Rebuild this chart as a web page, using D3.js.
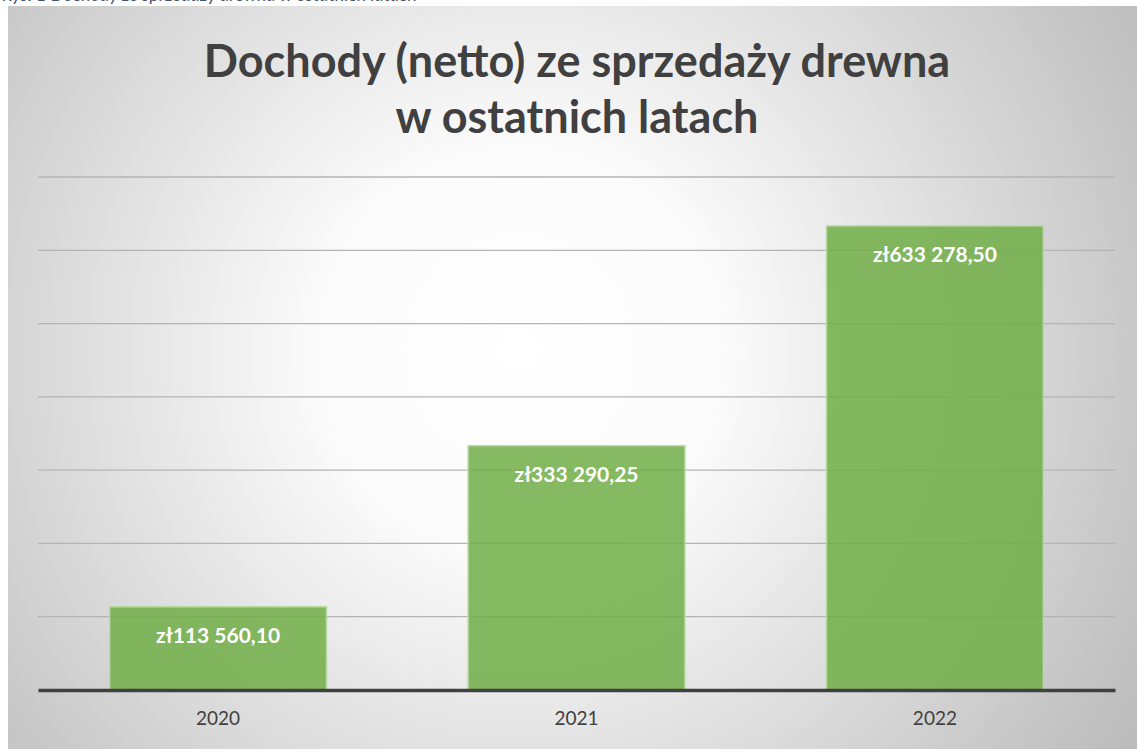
<!DOCTYPE html>
<html>
<head>
<meta charset="utf-8">
<script src="https://cdn.jsdelivr.net/npm/d3@7"></script>
<style>
  body { margin: 0; background: #fff; }
  svg { display: block; }
</style>
</head>
<body>
<div id="chart"></div>
<script>
// data
var years = ["2020", "2021", "2022"];
var values = [113560.10, 333290.25, 633278.50];
var labels = ["zł113 560,10", "zł333 290,25", "zł633 278,50"];
var gridTicks = [0, 100000, 200000, 300000, 400000, 500000, 600000, 700000];
var titleLines = ["Dochody (netto) ze sprzedaży drewna", "w ostatnich latach"];
var caption = "Rys. 1 Dochody ze sprzedaży drewna w ostatnich latach";

var svgWidth = 1137;
var svgHeight = 749;

var margin = { top: 177, right: 22, bottom: 59, left: 38 };
var chartWidth = svgWidth - margin.left - margin.right;
var chartHeight = svgHeight - margin.top - margin.bottom;

var svg = d3.select("#chart")
  .append("svg")
  .attr("width", svgWidth)
  .attr("height", svgHeight);

// background gradient
var defs = svg.append("defs");
var grad = defs.append("radialGradient")
  .attr("id", "bg")
  .attr("gradientUnits", "userSpaceOnUse")
  .attr("cx", 520).attr("cy", 350).attr("r", 720);
grad.append("stop").attr("offset", "0%").attr("stop-color", "#ffffff");
grad.append("stop").attr("offset", "28%").attr("stop-color", "#fbfbfb");
grad.append("stop").attr("offset", "100%").attr("stop-color", "#bcbcbc");

// caption above the chart (cut off at the top, as in the source)
svg.append("text")
  .attr("x", 2)
  .attr("y", 1)
  .attr("font-family", "Lato, sans-serif")
  .attr("font-style", "italic")
  .attr("font-size", 18)
  .attr("fill", "#44546a")
  .text(caption);

svg.append("rect")
  .attr("x", 8).attr("y", 6)
  .attr("width", svgWidth - 8).attr("height", svgHeight - 6)
  .attr("fill", "url(#bg)");

// title
svg.append("text")
  .attr("x", 577)
  .attr("y", 77)
  .attr("text-anchor", "middle")
  .attr("font-family", "Lato, sans-serif")
  .attr("font-weight", "bold")
  .attr("font-size", 45)
  .attr("fill", "#404040")
  .selectAll("tspan")
  .data(titleLines)
  .enter()
  .append("tspan")
  .attr("x", 577)
  .attr("dy", function(d, i) { return i === 0 ? 0 : 56; })
  .text(function(d) { return d; });

var chartGroup = svg.append("g")
  .attr("transform", `translate(${margin.left}, ${margin.top})`);

var xScale = d3.scaleBand()
  .domain(years)
  .range([0, chartWidth])
  .paddingInner(0.395)
  .paddingOuter(0.2);

var yScale = d3.scaleLinear()
  .domain([0, 700000])
  .range([chartHeight, 0]);

// gridlines
chartGroup.selectAll(".grid")
  .data(gridTicks.slice(1))
  .enter()
  .append("line")
  .attr("x1", 0)
  .attr("x2", chartWidth)
  .attr("y1", function(d) { return yScale(d); })
  .attr("y2", function(d) { return yScale(d); })
  .attr("stroke", "#b4b4b4")
  .attr("stroke-width", 1.3);

// bars
chartGroup.selectAll(".bar")
  .data(values)
  .enter()
  .append("rect")
  .attr("x", function(d, i) { return xScale(years[i]); })
  .attr("y", function(d) { return yScale(d); })
  .attr("width", xScale.bandwidth())
  .attr("height", function(d) { return chartHeight - yScale(d); })
  .attr("fill", "#70ad47")
  .attr("fill-opacity", 0.85)
  .attr("stroke", "#b5dca0")
  .attr("stroke-width", 1.5);

// value labels
chartGroup.selectAll(".lbl")
  .data(values)
  .enter()
  .append("text")
  .attr("x", function(d, i) { return xScale(years[i]) + xScale.bandwidth() / 2; })
  .attr("y", function(d) { return yScale(d) + 36; })
  .attr("text-anchor", "middle")
  .attr("font-family", "Lato, sans-serif")
  .attr("font-weight", "bold")
  .attr("font-size", 21)
  .attr("fill", "#ffffff")
  .text(function(d, i) { return labels[i]; });

// x axis
var bottomAxis = d3.axisBottom(xScale).tickSize(0).tickPadding(22);
var xAxis = chartGroup.append("g")
  .attr("transform", `translate(0, ${chartHeight})`)
  .call(bottomAxis);
xAxis.select(".domain")
  .attr("stroke", "#404040")
  .attr("stroke-width", 3.5);
xAxis.selectAll("text")
  .attr("font-family", "Lato, sans-serif")
  .attr("font-size", 19)
  .attr("fill", "#404040");
</script>
</body>
</html>
